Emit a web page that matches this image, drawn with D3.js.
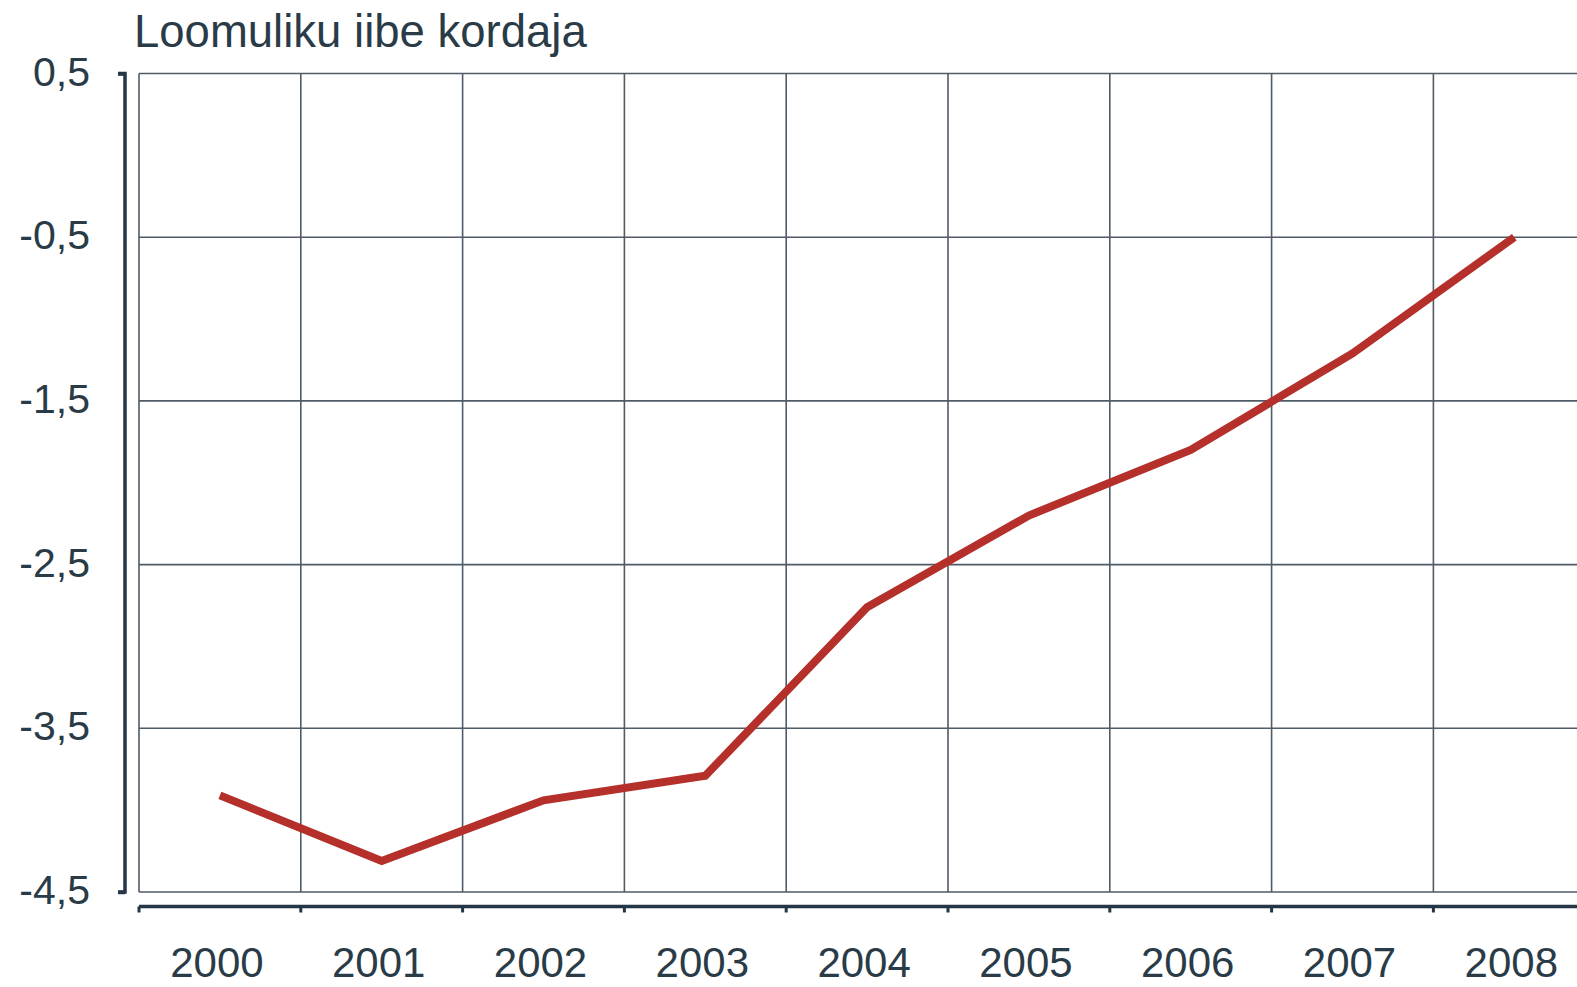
<!DOCTYPE html>
<html>
<head>
<meta charset="utf-8">
<script src="https://cdn.jsdelivr.net/npm/d3@7"></script>
<style>
  html, body { margin: 0; padding: 0; background: #ffffff; }
  svg { display: block; }
  text { font-family: "Liberation Sans", Arial, sans-serif; fill: #2a3b48; }
</style>
</head>
<body>
<svg id="chart" width="1577" height="987"></svg>
<script>
const title = "Loomuliku iibe kordaja";
const years = ["2000","2001","2002","2003","2004","2005","2006","2007","2008"];
const values = [-3.91, -4.31, -3.94, -3.79, -2.76, -2.20, -1.80, -1.21, -0.50];
const yTicks = [0.5, -0.5, -1.5, -2.5, -3.5, -4.5];
const yTickLabels = ["0,5", "-0,5", "-1,5", "-2,5", "-3,5", "-4,5"];

const svg = d3.select("#chart");
const left = 139, bandW = 161.8;
const x = d3.scaleBand().domain(years).range([left, left + bandW * years.length]).padding(0);
const y = d3.scaleLinear().domain([-4.5, 0.5]).range([892, 73.5]);

const gridColor = "#4f5b66";
const axisColor = "#253646";

// horizontal grid lines
svg.append("g").selectAll("line").data(yTicks).join("line")
  .attr("x1", left).attr("x2", 1577)
  .attr("y1", d => y(d)).attr("y2", d => y(d))
  .attr("stroke", gridColor).attr("stroke-width", 1.6);

// vertical grid lines at band boundaries
svg.append("g").selectAll("line").data(years).join("line")
  .attr("x1", d => x(d)).attr("x2", d => x(d))
  .attr("y1", y(0.5)).attr("y2", y(-4.5))
  .attr("stroke", gridColor).attr("stroke-width", 1.6);

// y axis (line with end hooks)
const yAxisX = 125;
const yAxis = d3.axisLeft(y).tickValues([0.5, -4.5]).tickSize(7).tickFormat("");
svg.append("g").attr("transform", `translate(${yAxisX},0)`).call(yAxis)
  .call(g => g.selectAll("path,line").attr("stroke", axisColor).attr("stroke-width", 3.5))
  .call(g => g.select(".domain").attr("d", `M-7,${y(0.5)}H0V${y(-4.5)}H-7`));

// y tick labels
svg.append("g").selectAll("text").data(yTicks).join("text")
  .attr("x", 90).attr("y", d => y(d) - 2)
  .attr("text-anchor", "end").attr("dominant-baseline", "central")
  .attr("font-size", 41)
  .text((d, i) => yTickLabels[i]);

// x axis line with ticks at band boundaries
const axisY = 906.5;
svg.append("line").attr("x1", left).attr("x2", 1577).attr("y1", axisY).attr("y2", axisY)
  .attr("stroke", axisColor).attr("stroke-width", 3.5);
svg.append("g").selectAll("line").data(years).join("line")
  .attr("x1", d => x(d)).attr("x2", d => x(d))
  .attr("y1", axisY).attr("y2", axisY + 6)
  .attr("stroke", axisColor).attr("stroke-width", 3);

// x labels
svg.append("g").selectAll("text").data(years).join("text")
  .attr("x", d => x(d) + x.bandwidth() / 2 - 3)
  .attr("y", 977)
  .attr("text-anchor", "middle")
  .attr("font-size", 42)
  .text(d => d);

// title
svg.append("text").attr("x", 134).attr("y", 47)
  .attr("font-size", 45.5).text(title);

// data line
const line = d3.line()
  .x((d, i) => x(years[i]) + x.bandwidth() / 2)
  .y(d => y(d));
svg.append("path").datum(values)
  .attr("d", line)
  .attr("fill", "none")
  .attr("stroke", "#b5302a")
  .attr("stroke-width", 8)
  .attr("stroke-linejoin", "miter");
</script>
</body>
</html>
